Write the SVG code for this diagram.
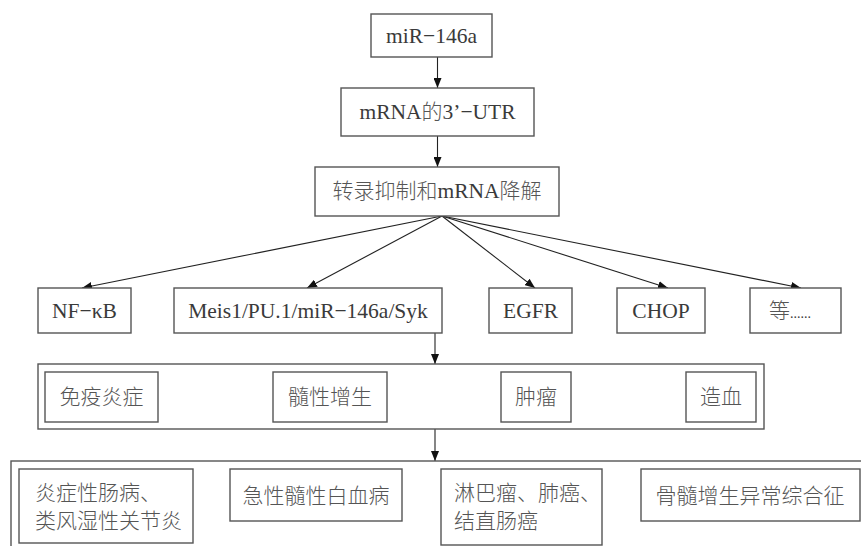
<svg xmlns="http://www.w3.org/2000/svg" width="861" height="546" viewBox="0 0 861 546">
<defs>
<marker id="arr" viewBox="0 0 10 8" refX="10" refY="4" markerWidth="10" markerHeight="8" markerUnits="userSpaceOnUse" orient="auto">
<path d="M0,0 L10,4 L0,8 Z" fill="#111"/>
</marker>
<style>
.box{fill:#fff;stroke:#555;stroke-width:1.4}
.frame{fill:none;stroke:#555;stroke-width:1.4}
.t{font-family:"Liberation Serif","Noto Sans CJK SC",serif;font-size:21.5px;fill:#3a3a3a;text-anchor:middle}
.c{font-family:"Noto Sans CJK SC",sans-serif;font-size:21px;font-weight:300;fill:#555;text-anchor:middle}
.cl{font-family:"Noto Sans CJK SC",sans-serif;font-size:21px;font-weight:300;fill:#555}
.s{font-family:"Liberation Serif",serif;font-weight:400;fill:#3a3a3a}
.ln{stroke:#222;stroke-width:1.1;fill:none;marker-end:url(#arr)}
</style>
</defs>
<rect width="861" height="546" fill="#fff"/>
<g id="connectors">
<line class="ln" x1="437.5" y1="57" x2="437.5" y2="88"/>
<line class="ln" x1="437.5" y1="136" x2="437.5" y2="167"/>
<line class="ln" x1="442" y1="216" x2="82" y2="288"/>
<line class="ln" x1="442" y1="216" x2="307" y2="288"/>
<line class="ln" x1="442" y1="216" x2="535" y2="288"/>
<line class="ln" x1="442" y1="216" x2="668" y2="288"/>
<line class="ln" x1="442" y1="216" x2="801" y2="288"/>
<line class="ln" x1="435" y1="333" x2="435" y2="364"/>
<line class="ln" x1="435" y1="429" x2="435" y2="461"/>
</g>
<g id="n-mir">
<rect class="box" x="371" y="14" width="121" height="43"/>
<text class="t" x="431.5" y="43">miR−146a</text>
</g>
<g id="n-utr">
<rect class="box" x="341" y="88" width="193" height="48"/>
<text class="t" x="437.5" y="119">mRNA<tspan style="font-family:'Noto Sans CJK SC',sans-serif;font-size:21px;font-weight:300;fill:#555">的</tspan>3’−UTR</text>
</g>
<g id="n-repress">
<rect class="box" x="315" y="167" width="244" height="49"/>
<text class="c" x="437" y="198">转录抑制和<tspan class="s" style="font-size:21.5px">mRNA</tspan>降解</text>
</g>
<g id="n-nfkb">
<rect class="box" x="38" y="288" width="93" height="45"/>
<text class="t" x="84.5" y="318">NF−κB</text>
</g>
<g id="n-meis">
<rect class="box" x="174" y="288" width="268" height="45"/>
<text class="t" x="308" y="318">Meis1/PU.1/miR−146a/Syk</text>
</g>
<g id="n-egfr">
<rect class="box" x="489" y="288" width="83" height="45"/>
<text class="t" x="530.5" y="318">EGFR</text>
</g>
<g id="n-chop">
<rect class="box" x="617" y="288" width="88" height="45"/>
<text class="t" x="661" y="318">CHOP</text>
</g>
<g id="n-etc">
<rect class="box" x="750" y="288" width="91" height="45"/>
<text class="cl" x="769" y="318">等<tspan class="s" style="font-size:14px">......</tspan></text>
</g>
<g id="n-group1">
<rect class="frame" x="38" y="364" width="726" height="65"/>
<g id="n-immune">
<rect class="box" x="45" y="372" width="113" height="50"/>
<text class="c" x="101.5" y="404">免疫炎症</text>
</g>
<g id="n-myelo">
<rect class="box" x="273" y="372" width="114" height="50"/>
<text class="c" x="330" y="404">髓性增生</text>
</g>
<g id="n-tumor">
<rect class="box" x="501" y="372" width="70" height="50"/>
<text class="c" x="536" y="404">肿瘤</text>
</g>
<g id="n-hema">
<rect class="box" x="686" y="372" width="70" height="50"/>
<text class="c" x="721" y="404">造血</text>
</g>
</g>
<g id="n-group2">
<rect class="frame" x="11" y="461" width="880" height="120"/>
<g id="n-ibd">
<rect class="box" x="19" y="469" width="174" height="74"/>
<text class="cl" x="35" y="500">炎症性肠病、</text>
<text class="cl" x="35" y="528">类风湿性关节炎</text>
</g>
<g id="n-aml">
<rect class="box" x="230" y="469" width="172" height="52"/>
<text class="c" x="316" y="503">急性髓性白血病</text>
</g>
<g id="n-lymph">
<rect class="box" x="441" y="469" width="161" height="76"/>
<text class="cl" x="454" y="500">淋巴瘤、肺癌、</text>
<text class="cl" x="454" y="528">结直肠癌</text>
</g>
<g id="n-mds">
<rect class="box" x="641" y="469" width="219" height="52"/>
<text class="c" x="750" y="503">骨髓增生异常综合征</text>
</g>
</g>
</svg>
